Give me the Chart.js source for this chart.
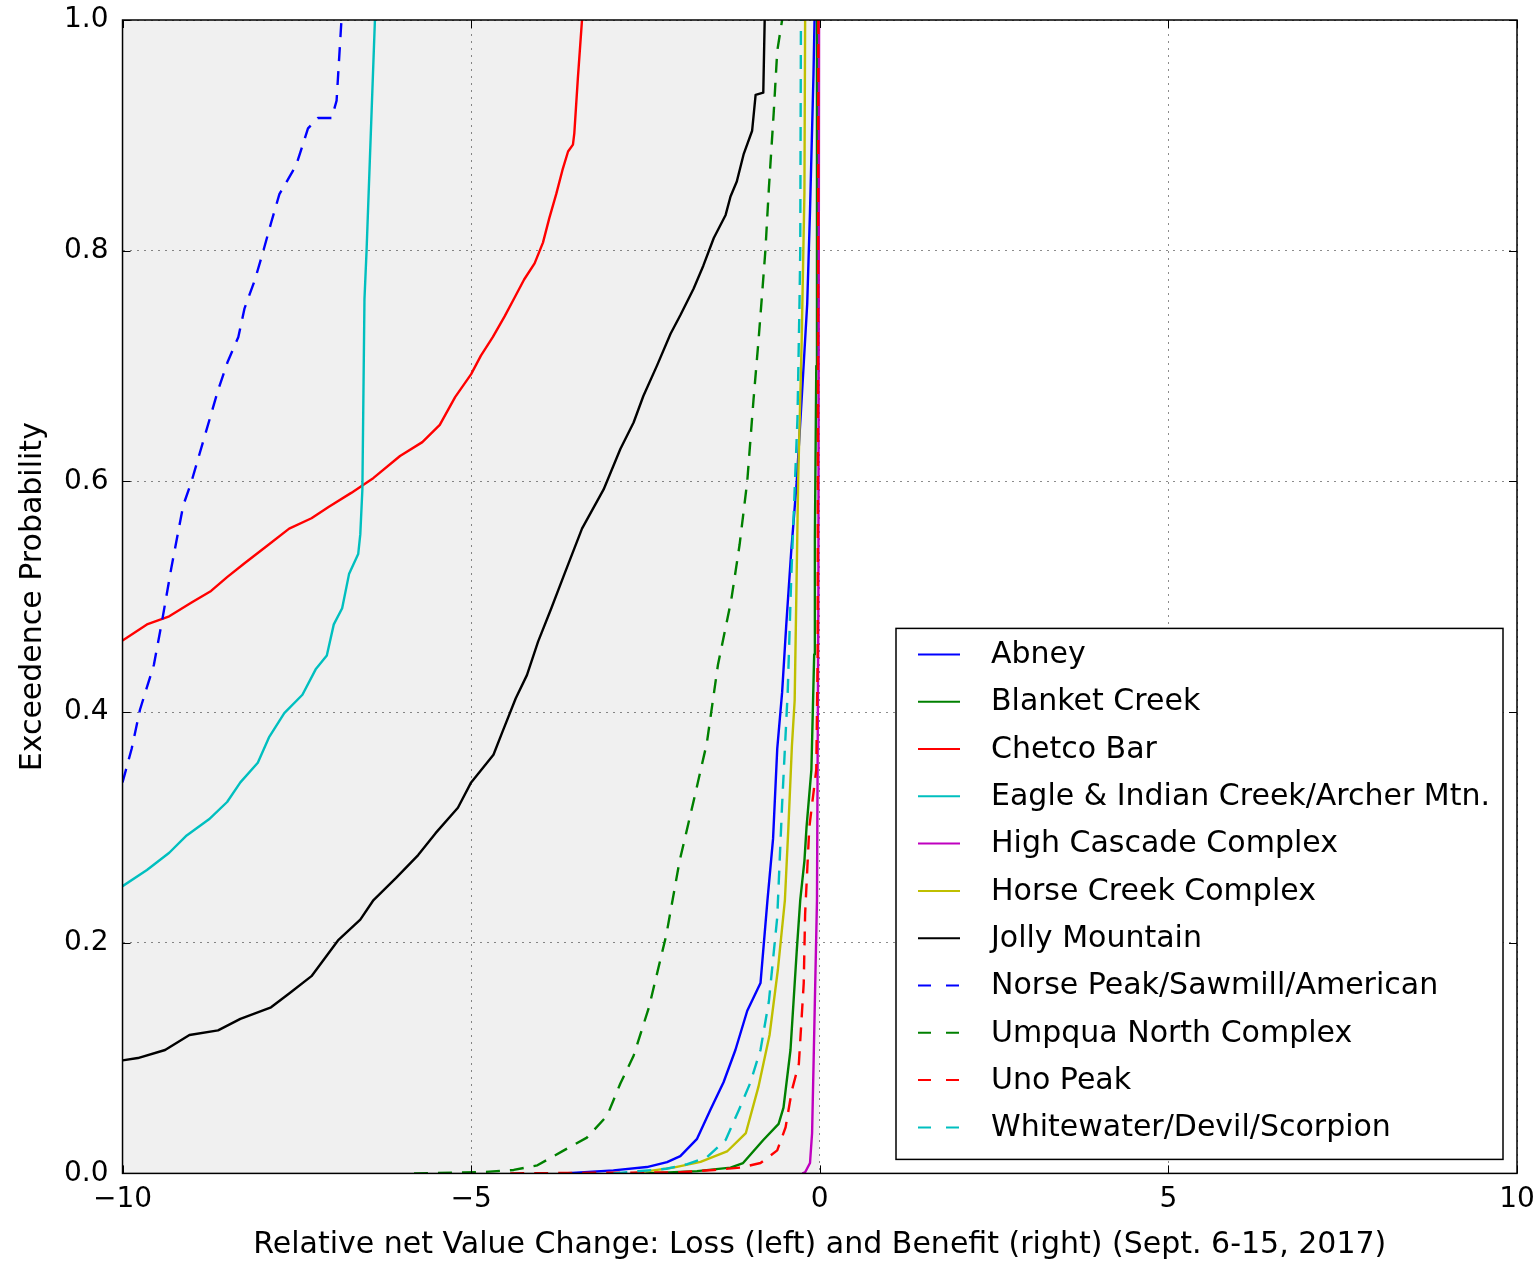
<!DOCTYPE html>
<html>
<head>
<meta charset="utf-8">
<script src="https://cdn.jsdelivr.net/npm/chart.js@4.4.1/dist/chart.umd.min.js"></script>
<style>
    html, body { margin: 0; padding: 0; background: #fff; }
    #wrap { width: 1539px; height: 1261px; position: relative; }
</style>
</head>
<body>
<div id="wrap"><canvas id="cdfChart"></canvas></div>
<script>
// axis ticks
const xTicks = [-10, -5, 0, 5, 10];
const yTicks = [0, 0.2, 0.4, 0.6, 0.8, 1.0];

// fire names (legend order)
const fireNames = [
    "Abney", "Blanket Creek", "Chetco Bar", "Eagle & Indian Creek/Archer Mtn.",
    "High Cascade Complex", "Horse Creek Complex", "Jolly Mountain",
    "Norse Peak/Sawmill/American", "Umpqua North Complex", "Uno Peak",
    "Whitewater/Devil/Scorpion"
];

// exceedence curves: value change (x) vs probability (y)
const abneyX = [-3.67, -2.96, -2.48, -2.19, -2.0, -1.76, -1.57, -1.38, -1.21, -1.04, -0.85, -0.75, -0.67, -0.61, -0.54, -0.48, -0.41, -0.33, -0.26, -0.18, -0.14, -0.09, -0.075];
const abneyY = [0, 0.0026, 0.0055, 0.0098, 0.015, 0.03, 0.055, 0.079, 0.107, 0.141, 0.165, 0.237, 0.29, 0.368, 0.417, 0.476, 0.539, 0.6, 0.671, 0.754, 0.834, 0.953, 1.0];

const blanketX = [-2.5, -1.76, -1.28, -1.1, -0.81, -0.59, -0.52, -0.42, -0.33, -0.28, -0.22, -0.19, -0.12, -0.08, -0.07, -0.05, -0.04];
const blanketY = [0, 0.002, 0.005, 0.009, 0.029, 0.043, 0.057, 0.107, 0.193, 0.237, 0.271, 0.3, 0.35, 0.45, 0.55, 0.7, 1.0];

const chetcoX = [-10, -9.65, -9.33, -9.01, -8.73, -8.50, -8.25, -7.93, -7.61, -7.29, -7.04, -6.72, -6.40, -6.02, -5.70, -5.45, -5.23, -5.0, -4.86, -4.69, -4.52, -4.38, -4.24, -4.09, -3.97, -3.88, -3.78, -3.69, -3.61, -3.54, -3.52, -3.47, -3.41];
const chetcoY = [0.462, 0.476, 0.483, 0.495, 0.505, 0.517, 0.529, 0.544, 0.559, 0.568, 0.578, 0.59, 0.603, 0.622, 0.634, 0.649, 0.673, 0.693, 0.709, 0.725, 0.743, 0.759, 0.775, 0.789, 0.807, 0.828, 0.849, 0.87, 0.886, 0.892, 0.902, 0.949, 1.0];

const eagleX = [-10, -9.65, -9.33, -9.08, -8.76, -8.50, -8.31, -8.06, -7.90, -7.68, -7.42, -7.23, -7.07, -6.97, -6.85, -6.75, -6.62, -6.59, -6.56, -6.53, -6.50, -6.44, -6.38];
const eagleY = [0.249, 0.263, 0.278, 0.293, 0.307, 0.322, 0.339, 0.356, 0.378, 0.399, 0.415, 0.437, 0.449, 0.476, 0.49, 0.52, 0.537, 0.554, 0.593, 0.758, 0.8, 0.9, 1.0];

const highCascadeX = [-0.25, -0.21, -0.14, -0.11, -0.09, -0.04, -0.02, -0.01];
const highCascadeY = [0, 0.001, 0.009, 0.035, 0.092, 0.237, 0.5, 1.0];

const horseX = [-2.7, -2.1, -1.71, -1.33, -1.06, -0.88, -0.72, -0.6, -0.5, -0.45, -0.40, -0.36, -0.31, -0.26, -0.22, -0.21];
const horseY = [0, 0.005, 0.01, 0.019, 0.035, 0.075, 0.12, 0.177, 0.237, 0.3, 0.37, 0.41, 0.6, 0.72, 0.85, 1.0];

const jollyX = [-10, -9.78, -9.39, -9.04, -8.63, -8.31, -7.87, -7.61, -7.29, -6.91, -6.59, -6.40, -6.08, -5.76, -5.51, -5.19, -5.0, -4.68, -4.55, -4.36, -4.20, -4.04, -3.85, -3.66, -3.41, -3.10, -2.86, -2.67, -2.53, -2.33, -2.14, -2.0, -1.81, -1.67, -1.52, -1.35, -1.28, -1.19, -1.09, -0.97, -0.92, -0.81, -0.79];
const jollyY = [0.098, 0.1, 0.107, 0.12, 0.124, 0.134, 0.144, 0.156, 0.171, 0.202, 0.22, 0.237, 0.256, 0.276, 0.295, 0.317, 0.339, 0.363, 0.383, 0.412, 0.432, 0.461, 0.49, 0.52, 0.559, 0.593, 0.628, 0.651, 0.674, 0.701, 0.728, 0.744, 0.767, 0.787, 0.811, 0.831, 0.847, 0.86, 0.884, 0.904, 0.935, 0.937, 1.0];

const norseX = [-10.0, -9.87, -9.75, -9.55, -9.43, -9.30, -9.13, -9.01, -8.89, -8.75, -8.63, -8.49, -8.34, -8.25, -8.10, -7.98, -7.87, -7.75, -7.51, -7.34, -7.20, -7.00, -6.93, -6.90, -6.86];
const norseY = [0.339, 0.368, 0.402, 0.441, 0.48, 0.525, 0.579, 0.60, 0.625, 0.654, 0.679, 0.704, 0.725, 0.75, 0.775, 0.80, 0.824, 0.849, 0.874, 0.906, 0.915, 0.915, 0.93, 0.96, 1.0];

const umpquaX = [-5.82, -4.87, -4.39, -4.05, -3.67, -3.34, -3.05, -2.86, -2.67, -2.45, -2.20, -2.01, -1.82, -1.62, -1.46, -1.27, -1.15, -1.04, -0.95, -0.88, -0.83, -0.78, -0.73, -0.66, -0.61, -0.54];
const umpquaY = [0, 0.001, 0.003, 0.007, 0.02, 0.031, 0.05, 0.078, 0.102, 0.144, 0.207, 0.271, 0.32, 0.373, 0.441, 0.497, 0.545, 0.6, 0.671, 0.721, 0.76, 0.8, 0.854, 0.92, 0.973, 1.0];

const unoX = [-4.44, -2.0, -1.52, -1.14, -0.85, -0.61, -0.49, -0.40, -0.30, -0.23, -0.21, -0.15, -0.05, -0.03, -0.02];
const unoY = [0, 0.001, 0.003, 0.005, 0.009, 0.02, 0.04, 0.072, 0.095, 0.165, 0.225, 0.3, 0.35, 0.45, 1.0];

const whitewaterX = [-2.96, -2.2, -1.90, -1.62, -1.35, -1.16, -1.0, -0.85, -0.73, -0.61, -0.54, -0.46, -0.41, -0.36, -0.32, -0.29, -0.28, -0.27];
const whitewaterY = [0, 0.004, 0.008, 0.014, 0.029, 0.055, 0.078, 0.107, 0.149, 0.222, 0.32, 0.417, 0.515, 0.593, 0.654, 0.757, 0.8, 1.0];

// shaded "loss" side of the axes
const lossSideX = [-10, 0];
const lossSideY = [1, 1];

const seriesX = [abneyX, blanketX, chetcoX, eagleX, highCascadeX, horseX, jollyX, norseX, umpquaX, unoX, whitewaterX];
const seriesY = [abneyY, blanketY, chetcoY, eagleY, highCascadeY, horseY, jollyY, norseY, umpquaY, unoY, whitewaterY];
const seriesColors = ["#0000ff", "#008000", "#ff0000", "#00bfbf", "#bf00bf", "#bfbf00", "#000000", "#0000ff", "#008000", "#ff0000", "#00bfbf"];
const seriesDashed = [false, false, false, false, false, false, false, true, true, true, true];

const FONT = "'DejaVu Sans', 'Liberation Sans', sans-serif";
const DASH = [14, 10];

function toPoints(xs, ys) {
    return xs.map((x, i) => ({ x: x, y: ys[i] }));
}

// ✅ Build line datasets
const datasets = fireNames.map((name, i) => ({
    label: name,
    data: toPoints(seriesX[i], seriesY[i]),
    borderColor: seriesColors[i],
    borderWidth: 2.4,
    borderDash: seriesDashed[i] ? DASH : [],
    borderJoinStyle: "round",
    pointRadius: 0,
    fill: false,
    tension: 0,
    order: fireNames.length - i
}));

datasets.push({
    label: "_shade",
    data: toPoints(lossSideX, lossSideY),
    borderWidth: 0,
    borderColor: "rgba(0,0,0,0)",
    backgroundColor: "#f0f0f0",
    pointRadius: 0,
    fill: "origin",
    order: 100
});

// ✅ Frame, inward ticks and the boxed legend
const framePlugin = {
    id: "frameAndLegend",
    afterDatasetsDraw(chart) {
        const ctx = chart.ctx;
        const a = chart.chartArea;
        const xs = chart.scales.x, ys = chart.scales.y;
        ctx.save();

        ctx.strokeStyle = "#000";
        ctx.lineWidth = 1;
        ctx.setLineDash([]);
        ctx.beginPath();
        xTicks.forEach(v => {
            const px = Math.round(xs.getPixelForValue(v)) + 0.5;
            ctx.moveTo(px, a.bottom); ctx.lineTo(px, a.bottom - 8);
            ctx.moveTo(px, a.top); ctx.lineTo(px, a.top + 8);
        });
        yTicks.forEach(v => {
            const py = Math.round(ys.getPixelForValue(v)) + 0.5;
            ctx.moveTo(a.left, py); ctx.lineTo(a.left + 8, py);
            ctx.moveTo(a.right, py); ctx.lineTo(a.right - 8, py);
        });
        ctx.stroke();

        ctx.lineWidth = 1.5;
        ctx.strokeRect(a.left, a.top, a.right - a.left, a.bottom - a.top);

        // legend box
        const boxW = 607, boxH = 531;
        const bx = a.right - 14 - boxW;
        const by = a.bottom - 14 - boxH;
        ctx.fillStyle = "#fff";
        ctx.fillRect(bx, by, boxW, boxH);
        ctx.lineWidth = 1.5;
        ctx.strokeStyle = "#000";
        ctx.strokeRect(bx, by, boxW, boxH);

        ctx.font = "30px " + FONT;
        ctx.textBaseline = "middle";
        ctx.textAlign = "left";
        fireNames.forEach((name, i) => {
            const ry = by + 26 + i * 47.3;
            ctx.beginPath();
            ctx.strokeStyle = seriesColors[i];
            ctx.lineWidth = 2;
            ctx.setLineDash(seriesDashed[i] ? [13, 15] : []);
            ctx.moveTo(bx + 22, ry);
            ctx.lineTo(bx + 64, ry);
            ctx.stroke();
            ctx.setLineDash([]);
            ctx.fillStyle = "#000";
            ctx.fillText(name, bx + 95, ry + 1);
        });
        ctx.restore();
    }
};

const ctx = document.getElementById("cdfChart").getContext("2d");
window.cdfChartInstance = new Chart(ctx, {
    type: "line",
    data: { datasets: datasets },
    options: {
        responsive: true,
        maintainAspectRatio: false,
        animation: false,
        events: [],
        layout: { padding: { left: 15, right: 0, top: 0, bottom: -2 } },
        plugins: {
            legend: { display: false },
            tooltip: { enabled: false },
            filler: { drawTime: "beforeDraw" }
        },
        scales: {
            x: {
                type: "linear",
                min: -10,
                max: 10,
                afterBuildTicks: axis => { axis.ticks = xTicks.map(v => ({ value: v })); },
                afterFit: axis => { axis.paddingRight = 22; axis.paddingLeft = 0; },
                grid: { color: "rgba(0,0,0,0.45)", lineWidth: 1, drawTicks: false },
                border: { display: false, dash: [2, 5] },
                ticks: {
                    padding: 10,
                    color: "#000",
                    font: { family: FONT, size: 28 },
                    maxRotation: 0,
                    callback: v => (v < 0 ? "\u2212" + Math.abs(v) : String(v))
                },
                title: {
                    display: true,
                    text: "Relative net Value Change: Loss (left) and Benefit (right) (Sept. 6-15, 2017)",
                    color: "#000",
                    font: { family: FONT, size: 30 },
                    padding: { top: 0, bottom: 0 }
                }
            },
            y: {
                type: "linear",
                min: 0,
                max: 1,
                afterBuildTicks: axis => { axis.ticks = yTicks.map(v => ({ value: v })); },
                afterFit: axis => { axis.paddingTop = 20; },
                grid: { color: "rgba(0,0,0,0.45)", lineWidth: 1, drawTicks: false },
                border: { display: false, dash: [2, 5] },
                ticks: {
                    padding: 14,
                    color: "#000",
                    font: { family: FONT, size: 28 },
                    callback: v => Number(v).toFixed(1)
                },
                title: {
                    display: true,
                    text: "Exceedence Probability",
                    color: "#000",
                    font: { family: FONT, size: 30 },
                    padding: { top: 0, bottom: -1 }
                }
            }
        }
    },
    plugins: [framePlugin]
});
</script>
</body>
</html>
